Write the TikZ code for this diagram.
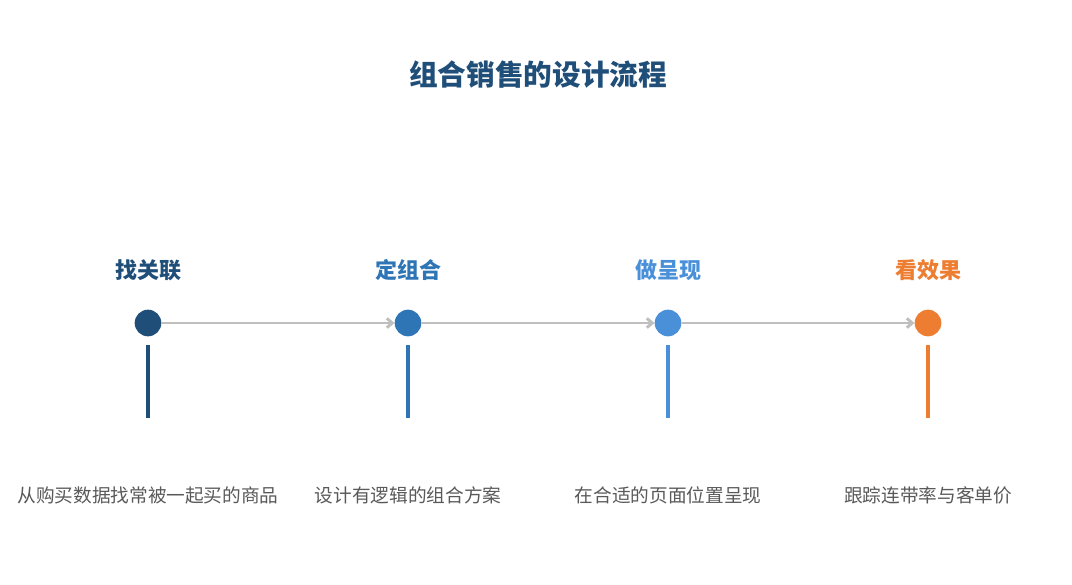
\documentclass[tikz,border=0pt]{standalone}
\usepackage{fontspec}
\setmainfont{Noto Sans CJK SC}
\usepackage{tikz}
\usetikzlibrary{arrows.meta}
\definecolor{stepA}{HTML}{1F4E79}
\definecolor{stepB}{HTML}{2E75B6}
\definecolor{stepC}{HTML}{4A90D9}
\definecolor{stepD}{HTML}{ED7D31}
\definecolor{linkgray}{HTML}{BFBFBF}
\definecolor{descgray}{HTML}{595959}

\begin{document}
\begin{tikzpicture}[x=0.75pt, y=-0.75pt,
    dot/.style={circle, fill=#1, minimum size=20pt, inner sep=0pt},
    step/.style={font=\fontsize{16.5}{18}\selectfont\bfseries, text=#1},
    desc/.style={font=\fontsize{14}{16}\selectfont, text=descgray},
    link/.style={draw=linkgray, line width=2.2pt, -{Straight Barb[length=4pt, width=7pt]}}]
    \useasboundingbox (0,0) rectangle (1072,585);

    % Titel.
    \node[font=\fontsize{21.5}{24}\selectfont\bfseries, text=stepA] (title) at (538,75) {组合销售的设计流程};

    % Schritte.
    \foreach \x/\c/\name/\lbl/\txt in {148/stepA/a/找关联/从购买数据找常被一起买的商品,
        408/stepB/b/定组合/设计有逻辑的组合方案,
        668/stepC/c/做呈现/在合适的页面位置呈现,
        928/stepD/d/看效果/跟踪连带率与客单价}
    {
        \node[step=\c] (lbl\name) at (\x,270) {\lbl};
        \node[dot=\c] (dot\name) at (\x,323) {};
        \coordinate (top\name) at (\x,345);
        \coordinate (bot\name) at (\x,418);
        \draw[\c, line width=2.4pt] (top\name) -- (bot\name);
        \node[desc] (txt\name) at (\x,495) {\txt};
    }

    % Pfeile.
    \draw[link] (dota) -- (dotb);
    \draw[link] (dotb) -- (dotc);
    \draw[link] (dotc) -- (dotd);
\end{tikzpicture}
\end{document}
